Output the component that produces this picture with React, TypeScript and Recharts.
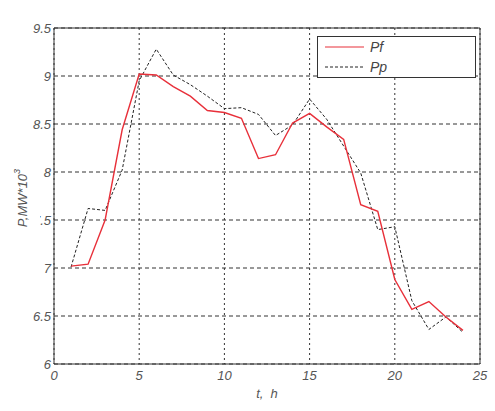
import { LineChart, Line, XAxis, YAxis, CartesianGrid, ReferenceLine, Label } from 'recharts';

const hours = [1, 2, 3, 4, 5, 6, 7, 8, 9, 10, 11, 12, 13, 14, 15, 16, 17, 18, 19, 20, 21, 22, 23, 24];
const pf = [7.02, 7.04, 7.5, 8.44, 9.02, 9.01, 8.89, 8.79, 8.64, 8.62, 8.56, 8.14, 8.18, 8.51, 8.61, 8.47, 8.34, 7.66, 7.59, 6.88, 6.57, 6.65, 6.49, 6.35];
const pp = [7.01, 7.62, 7.6, 8.02, 8.95, 9.28, 9.01, 8.91, 8.79, 8.66, 8.67, 8.6, 8.38, 8.49, 8.76, 8.55, 8.27, 7.99, 7.4, 7.43, 6.66, 6.36, 6.49, 6.33];
const xTicks = [0, 5, 10, 15, 20, 25];
const yTicks = [6, 6.5, 7, 7.5, 8, 8.5, 9, 9.5];

const data = hours.map((h, i) => ({ t: h, Pf: pf[i], Pp: pp[i] }));

const FONT = '"Liberation Sans", Arial, sans-serif';
const tickStyle = { fill: '#555', fontSize: 13, fontStyle: 'italic', fontFamily: FONT };

// y label drawn on top, it hides the "7" of 7.5 like in the original figure
function YLabel() {
  const cx = 22;
  const cy = 198;
  return (
    <svg width={60} height={411} style={{ position: 'absolute', left: 0, top: 0, pointerEvents: 'none' }}>
      <rect x={cx - 10} y={cy - 32} width={28} height={64} fill="#fff" />
      <text
        x={cx}
        y={cy}
        transform={`rotate(-90, ${cx}, ${cy})`}
        textAnchor="middle"
        dominantBaseline="central"
        fill="#555"
        fontSize={13}
        fontStyle="italic"
        fontFamily={FONT}
      >
        P,MW*10<tspan dy={-5} fontSize={9}>3</tspan>
      </text>
    </svg>
  );
}

function LegendBox() {
  return (
    <div style={{ position: 'absolute', left: 317, top: 36, width: 157, height: 40, border: '1px solid #333', background: '#fff' }}>
      <svg width={157} height={40} style={{ display: 'block' }}>
        <line x1={7} x2={46} y1={10} y2={10} stroke="#e8303a" strokeWidth={1.2} />
        <line x1={7} x2={46} y1={30} y2={30} stroke="#222" strokeWidth={1} strokeDasharray="3 2" />
        <text x={52} y={15} fill="#444" fontSize={14} fontStyle="italic" fontFamily={FONT}>Pf</text>
        <text x={52} y={35} fill="#444" fontSize={14} fontStyle="italic" fontFamily={FONT}>Pp</text>
      </svg>
    </div>
  );
}

export default function App() {
  return (
    <div style={{ position: 'absolute', left: 0, top: 0, width: 495, height: 411, background: '#fff' }}>
      <LineChart width={495} height={411} data={data} margin={{ top: 28, right: 15, bottom: 0, left: 0 }}>
        <CartesianGrid horizontal={true} vertical={false} stroke="#333" strokeDasharray="4 3" />
        <CartesianGrid horizontal={false} vertical={true} stroke="#333" strokeDasharray="2 3" />
        <XAxis
          dataKey="t"
          type="number"
          domain={[0, 25]}
          ticks={xTicks}
          height={47}
          tickSize={0}
          tickMargin={7}
          tick={tickStyle}
          axisLine={{ stroke: '#333' }}
          tickLine={false}
        >
          <Label value={'t,\u00a0\u00a0h'} position="insideBottom" offset={13} fill="#555" fontSize={13} fontStyle="italic" fontFamily={FONT} />
        </XAxis>
        <YAxis
          type="number"
          domain={[6, 9.5]}
          ticks={yTicks}
          width={54}
          tickSize={0}
          tickMargin={3}
          tick={tickStyle}
          axisLine={{ stroke: '#333' }}
          tickLine={false}
        />
        <ReferenceLine y={9.5} stroke="#333" />
        <ReferenceLine x={25} stroke="#333" />
        <Line dataKey="Pp" stroke="#222" strokeWidth={1} strokeDasharray="3 2" dot={false} isAnimationActive={false} />
        <Line dataKey="Pf" stroke="#e8303a" strokeWidth={1.4} dot={false} isAnimationActive={false} />
      </LineChart>
      <YLabel />
      <LegendBox />
    </div>
  );
}
